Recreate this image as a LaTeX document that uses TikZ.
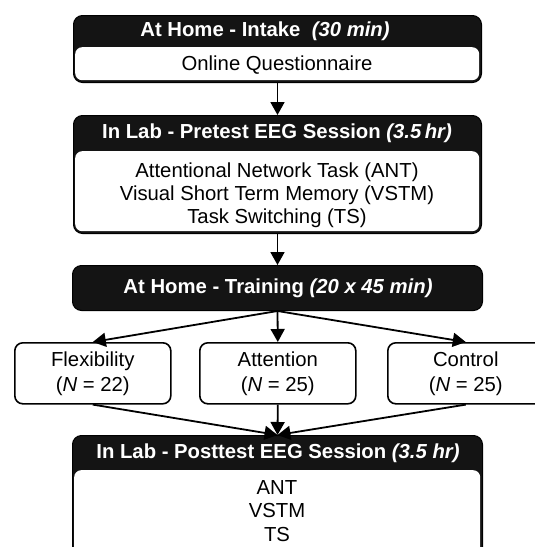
\documentclass[tikz,border=0pt]{standalone}
\usepackage{fontspec}
\setmainfont{Liberation Sans}
\usetikzlibrary{arrows.meta}
\begin{document}
\begin{tikzpicture}[x=1pt,y=-1pt,
  outerbox/.style={draw=black, fill=black!92, line width=1pt, rounded corners=9pt, inner sep=0pt, anchor=north west},
  innerbox/.style={fill=white, rounded corners=7pt, inner sep=0pt, anchor=north west},
  headtxt/.style={text=white, font=\fontsize{20.3}{23}\selectfont\bfseries, inner sep=0pt},
  bodytxt/.style={align=center, font=\fontsize{20.3}{23}\selectfont, inner sep=0pt},
  grp/.style={draw=black, fill=white, line width=1.6pt, rounded corners=8pt, inner sep=0pt, anchor=north west, align=center, minimum width=156pt, minimum height=61pt, font=\fontsize{20.3}{25}\selectfont},
  arr/.style={line width=1.8pt, -{Triangle[length=13pt,width=14pt]}}]
\useasboundingbox (0,0) rectangle (535,547);
\clip (0,0) rectangle (535,547);
% box 1
\node[outerbox, minimum width=408pt, minimum height=67pt] (b1) at (73,15) {};
\node[innerbox, minimum width=404pt, minimum height=33pt] (i1) at (75,47) {};
\node[headtxt] (h1) at (265,31) {At Home - Intake\ \ \textit{(30 min)}};
\node[bodytxt] (t1) at (277,65) {Online Questionnaire};
% box 2
\node[outerbox, minimum width=408pt, minimum height=118pt] (b2) at (73,115) {};
\node[innerbox, minimum width=404pt, minimum height=80pt] (i2) at (75,151) {};
\node[headtxt] (h2) at (277,133) {In Lab - Pretest EEG Session \textit{(3.5\,hr)}};
\node[bodytxt] (t2) at (277,195) {Attentional Network Task (ANT)\\Visual Short Term Memory (VSTM)\\Task Switching (TS)};
% training
\node[outerbox, minimum width=410pt, minimum height=45pt] (b3) at (72,265) {};
\node[headtxt] (h3) at (278,288) {At Home - Training \textit{(20 x 45 min)}};
% groups
\node[grp] (g1) at (14,342) {Flexibility\\(\textit{N} = 22)};
\node[grp] (g2) at (199,342) {Attention\\(\textit{N} = 25)};
\node[grp] (g3) at (387,342) {Control\\(\textit{N} = 25)};
% box 4
\node[outerbox, minimum width=410pt, minimum height=135pt] (b4) at (72,435) {};
\node[innerbox, minimum width=406pt, minimum height=98pt] (i4) at (74,470) {};
\node[headtxt] (h4) at (278,453) {In Lab - Posttest EEG Session \textit{(3.5 hr)}};
\node[bodytxt, font=\fontsize{20.3}{23.5}\selectfont] (t4) at (277,511) {ANT\\VSTM\\TS};
% arrows
\draw[arr] (b1.south) -- (b2.north);
\draw[arr] (b2.south) -- (b3.north);
\draw[arr] (b3.south) -- (g1.north);
\draw[arr] (b3.south) -- (g2.north);
\draw[arr] (b3.south) -- (g3.north);
\draw[arr] (g1.south) -- (b4.north);
\draw[arr] (g2.south) -- (b4.north);
\draw[arr] (g3.south) -- (b4.north);
\end{tikzpicture}
\end{document}
